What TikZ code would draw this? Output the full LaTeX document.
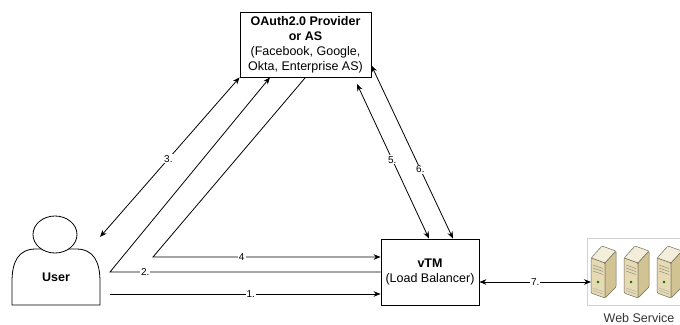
\documentclass[tikz,border=0pt]{standalone}
\usepackage{fontspec}
\setmainfont{Liberation Sans}
\usetikzlibrary{arrows.meta}
\definecolor{srvtop}{HTML}{F3EEDA}
\definecolor{srvfront}{HTML}{E6DAB2}
\definecolor{srvside}{HTML}{D2C393}
\definecolor{srvline}{HTML}{6F6A5C}
\begin{document}
\begin{tikzpicture}[
        x=1pt, y=-1pt,
        >={Stealth[length=7pt, width=5.5pt]},
        link/.style={line width=0.8pt},
        box/.style={draw, line width=0.8pt, align=center, inner sep=0pt, font=\fontsize{12.5}{15}\selectfont},
        lbl/.style={fill=white, inner sep=1pt, font=\fontsize{10}{11}\selectfont},
        server/.pic={
            \draw[srvline, fill=srvtop, line width=0.5pt, rounded corners=1pt] (0,12) -- (11,0) -- (25,5) -- (14,17) -- cycle;
            \draw[srvline, fill=srvfront, line width=0.5pt, rounded corners=1pt] (0,12) -- (14,17) -- (14,52) -- (0,47) -- cycle;
            \draw[srvline, fill=srvside, line width=0.5pt, rounded corners=1pt] (14,17) -- (25,5) -- (25,41) -- (14,52) -- cycle;
            \draw[gray, line width=0.4pt] (2,19) -- (12,22.5) (2,22) -- (12,25.5) (2,25) -- (12,28.5);
            \fill[green!45!black] (7,36) circle (1.3);
            \draw[gray!70, line width=0.4pt] (2,42) -- (12,45.5) (2,44.5) -- (12,48);
        }
    ]
        \useasboundingbox (0,0) rectangle (680,324);

        % Boxes
        \node[box, minimum width=131pt, minimum height=65pt] (oauth) at (305.5,44.5)
            {\textbf{OAuth2.0 Provider}\\\textbf{or AS}\\(Facebook, Google,\\Okta, Enterprise AS)};
        \node[box, minimum width=98pt, minimum height=66pt] (vtm) at (430,272)
            {\textbf{vTM}\\(Load Balancer)};
        \node[draw=gray!35, line width=0.6pt, minimum width=113pt, minimum height=67pt] (web) at (643.5,271.5) {};
        \node[font=\fontsize{12.5}{14}\selectfont, text=black!80] (weblbl) at (639,318) {Web Service};

        % Servers
        \pic at (591,246) {server};
        \pic at (624,246) {server};
        \pic at (657,246) {server};

        % User
        \draw[line width=0.8pt, fill=white] (12,305) -- (12,282) .. controls (12,262) and (18,249) .. (36,249)
            -- (76,249) .. controls (94,249) and (100,262) .. (100,282) -- (100,305) -- cycle;
        \draw[line width=0.8pt, fill=white] (55,234.5) ellipse (22 and 18.5);
        \node[font=\fontsize{12.5}{15}\selectfont\bfseries] (user) at (56,277) {User};

        % Free ends
        \coordinate (u1) at (110,294);
        \coordinate (u2) at (110,272);
        \coordinate (u3) at (100,237);
        \coordinate (u4) at (153,257);
        \coordinate (a5) at (357,84);
        \coordinate (w7) at (591,282);

        % Connectors
        \draw[link, ->] (u1) -- (u1 -| vtm.west) node[lbl, pos=0.52] {1.};
        \draw[link, ->] (vtm.west) -- (u2) node[lbl, pos=0.87] {2.} -- ([xshift=-35.5pt]oauth.south);
        \draw[link, <->] (u3) -- (oauth.south west) node[lbl, pos=0.49] {3.};
        \draw[link, ->] (oauth.south) -- (u4) -- (u4 -| vtm.west) node[lbl, pos=0.39] {4};
        \draw[link, <->] (a5) -- ([xshift=-1pt]vtm.north) node[lbl, pos=0.49] {5.};
        \draw[link, <->] ([yshift=12pt]oauth.south east) -- ([xshift=23pt]vtm.north) node[lbl, pos=0.6] {6.};
        \draw[link, <->] ([yshift=-10pt]vtm.east) -- (w7) node[lbl, pos=0.5] {7.};
    \end{tikzpicture}
\end{document}
